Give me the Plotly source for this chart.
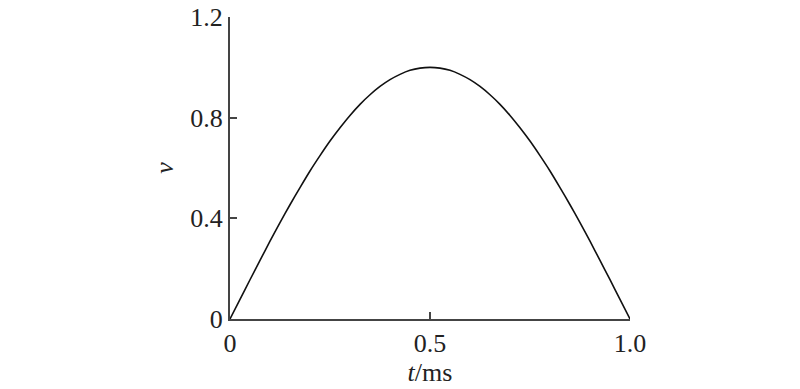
import plotly.graph_objects as go

t_ms = [0, 0.025, 0.05, 0.075, 0.1, 0.125, 0.15, 0.175, 0.2, 0.225, 0.25,
        0.275, 0.3, 0.325, 0.35, 0.375, 0.4, 0.425, 0.45, 0.475, 0.5,
        0.525, 0.55, 0.575, 0.6, 0.625, 0.65, 0.675, 0.7, 0.725, 0.75,
        0.775, 0.8, 0.825, 0.85, 0.875, 0.9, 0.925, 0.95, 0.975, 1.0]
v = [0, 0.078, 0.156, 0.233, 0.309, 0.383, 0.454, 0.522, 0.588, 0.649, 0.707,
     0.760, 0.809, 0.853, 0.891, 0.924, 0.951, 0.972, 0.988, 0.997, 1.0,
     0.997, 0.988, 0.972, 0.951, 0.924, 0.891, 0.853, 0.809, 0.760, 0.707,
     0.649, 0.588, 0.522, 0.454, 0.383, 0.309, 0.233, 0.156, 0.078, 0]

x_ticks = [0, 0.5, 1.0]
x_ticktext = ["0", "0.5", "1.0"]
y_ticks = [0, 0.4, 0.8, 1.2]
y_ticktext = ["0", "0.4", "0.8", "1.2"]

fig = go.Figure()
fig.add_trace(go.Scatter(x=t_ms, y=v, mode="lines",
                         line=dict(color="#111111", width=1.6, shape="spline", smoothing=0.6),
                         showlegend=False))

font = dict(family="Liberation Serif", size=26, color="#222222")
axis_common = dict(showgrid=False, zeroline=False, showline=True, linecolor="#444444", linewidth=2,
                   ticks="inside", ticklen=7, tickwidth=2, tickcolor="#444444", tickfont=font,
                   automargin=False)

fig.update_layout(
    width=800, height=389,
    margin=dict(l=230, r=170, t=17, b=70),
    paper_bgcolor="white", plot_bgcolor="white",
    xaxis=dict(range=[0, 1.0], tickvals=x_ticks, ticktext=x_ticktext,
               title=dict(text="<i>t</i>/ms", font=font, standoff=6), **axis_common),
    yaxis=dict(range=[0, 1.2], tickvals=y_ticks, ticktext=y_ticktext,
               title=dict(text="<i>v</i>", font=font, standoff=9), **axis_common),
)

fig.write_html("out.html")
